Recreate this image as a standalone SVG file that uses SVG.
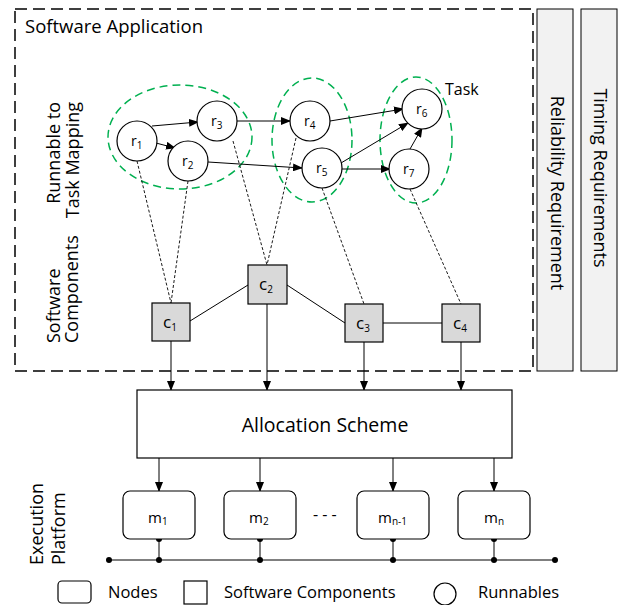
<svg xmlns="http://www.w3.org/2000/svg" width="625" height="605" viewBox="0 0 625 605">
<defs>
<marker id="ah" markerWidth="10" markerHeight="8" refX="9" refY="4" orient="auto" markerUnits="userSpaceOnUse">
<path d="M0,0 L10,4 L0,8 Z" fill="#000"/>
</marker>
<style>
text{font-family:"Open Sans","Noto Sans","DejaVu Sans",sans-serif;fill:#000}
.lbl{font-size:16px}
.big{font-size:18px}
.leg{font-size:16.5px}
.run{fill:#fff;stroke:#000;stroke-width:1.2}
.task{fill:none;stroke:#00b050;stroke-width:1.5;stroke-dasharray:8,5}
.comp{fill:#d9d9d9;stroke:#000;stroke-width:1.2}
.node{fill:#fff;stroke:#000;stroke-width:1.2}
.req{fill:#f2f2f2;stroke:#000;stroke-width:1}
.arr{stroke:#000;stroke-width:1;fill:none;marker-end:url(#ah)}
.ln{stroke:#000;stroke-width:1;fill:none}
.dl{stroke:#000;stroke-width:0.9;fill:none;stroke-dasharray:3,2}
.sub{font-size:10px}
.rl{font-size:14px}
.ml{font-size:15px}
</style>
</defs>
<rect width="625" height="605" fill="#fff"/>

<g id="software-application">
<rect x="15" y="9" width="518" height="362" fill="none" stroke="#000" stroke-width="1.5" stroke-dasharray="12,6"/>
<text x="25" y="33" style="font-size:18.5px">Software Application</text>
<text class="big" transform="translate(60,102) rotate(-90)" text-anchor="end">Runnable to</text>
<text class="big" transform="translate(79,102) rotate(-90)" text-anchor="end">Task Mapping</text>
<text class="big" transform="translate(60,343) rotate(-90)">Software</text>
<text class="big" transform="translate(78,343) rotate(-90)">Components</text>
</g>

<g id="reliability-requirement">
<rect x="537" y="9" width="36" height="362" class="req"/>
<text class="big" transform="translate(551,193) rotate(90)" text-anchor="middle">Reliability Requirement</text>
</g>
<g id="timing-requirements">
<rect x="581" y="9" width="36" height="362" class="req"/>
<text class="big" transform="translate(594,178) rotate(90)" text-anchor="middle">Timing Requirements</text>
</g>

<g id="tasks">
<ellipse cx="180" cy="137" rx="72" ry="52" class="task"/>
<ellipse cx="312" cy="140" rx="40" ry="62" class="task"/>
<ellipse cx="416" cy="140" rx="36" ry="63" class="task"/>
<text x="445" y="95" class="lbl">Task</text>
</g>

<g id="connectors">
<line x1="152" y1="126" x2="198" y2="122" class="arr"/>
<line x1="156" y1="143" x2="175" y2="148" class="arr"/>
<line x1="237" y1="121" x2="290" y2="121" class="arr"/>
<line x1="208" y1="162" x2="302" y2="168" class="arr"/>
<line x1="330" y1="121" x2="403" y2="109" class="arr"/>
<line x1="341" y1="163" x2="408" y2="123" class="arr"/>
<line x1="342" y1="169" x2="390" y2="169" class="arr"/>
<line x1="410" y1="149" x2="422" y2="128" class="arr"/>

<line x1="137" y1="161" x2="171" y2="303" class="dl"/>
<line x1="188" y1="181" x2="171" y2="303" class="dl"/>
<line x1="233" y1="141" x2="267" y2="265" class="dl"/>
<line x1="296" y1="138" x2="267" y2="265" class="dl"/>
<line x1="322" y1="188" x2="364" y2="304" class="dl"/>
<line x1="410" y1="189" x2="461" y2="304" class="dl"/>

<line x1="190" y1="321" x2="248" y2="285" class="ln"/>
<line x1="287" y1="285" x2="345" y2="323" class="ln"/>
<line x1="383" y1="323" x2="442" y2="323" class="ln"/>

<line x1="171" y1="341" x2="171" y2="390" class="arr"/>
<line x1="267" y1="304" x2="267" y2="390" class="arr"/>
<line x1="364" y1="342" x2="364" y2="390" class="arr"/>
<line x1="461" y1="342" x2="461" y2="390" class="arr"/>

<line x1="159" y1="458" x2="159" y2="491" class="arr"/>
<line x1="260" y1="458" x2="260" y2="491" class="arr"/>
<line x1="393" y1="458" x2="393" y2="491" class="arr"/>
<line x1="494" y1="458" x2="494" y2="491" class="arr"/>

<line x1="109" y1="560" x2="555" y2="560" class="ln"/>
<line x1="159" y1="539" x2="159" y2="560" class="ln"/>
<line x1="260" y1="539" x2="260" y2="560" class="ln"/>
<line x1="393" y1="539" x2="393" y2="560" class="ln"/>
<line x1="494" y1="539" x2="494" y2="560" class="ln"/>
<g fill="#000">
<circle cx="109" cy="560" r="3"/><circle cx="555" cy="560" r="3"/>
<circle cx="159" cy="560" r="3"/><circle cx="260" cy="560" r="3"/><circle cx="393" cy="560" r="3"/><circle cx="494" cy="560" r="3"/>
<circle cx="159" cy="539" r="3"/><circle cx="260" cy="539" r="3"/><circle cx="393" cy="539" r="3"/><circle cx="494" cy="539" r="3"/>
</g>
</g>

<g id="r1"><circle cx="137" cy="141" r="20" class="run"/><text x="131" y="146" class="rl">r<tspan class="sub" dy="3">1</tspan></text></g>
<g id="r2"><circle cx="188" cy="161" r="20" class="run"/><text x="182" y="166" class="rl">r<tspan class="sub" dy="3">2</tspan></text></g>
<g id="r3"><circle cx="217" cy="121" r="20" class="run"/><text x="211" y="126" class="rl">r<tspan class="sub" dy="3">3</tspan></text></g>
<g id="r4"><circle cx="310" cy="121" r="20" class="run"/><text x="304" y="126" class="rl">r<tspan class="sub" dy="3">4</tspan></text></g>
<g id="r5"><circle cx="322" cy="168" r="20" class="run"/><text x="316" y="173" class="rl">r<tspan class="sub" dy="3">5</tspan></text></g>
<g id="r6"><circle cx="422" cy="109" r="20" class="run"/><text x="416" y="114" class="rl">r<tspan class="sub" dy="3">6</tspan></text></g>
<g id="r7"><circle cx="409" cy="169" r="20" class="run"/><text x="403" y="174" class="rl">r<tspan class="sub" dy="3">7</tspan></text></g>

<g id="c1"><rect x="152" y="303" width="38" height="38" class="comp"/><text x="163" y="328" style="font-size:17px">c<tspan class="sub" dy="3">1</tspan></text></g>
<g id="c2"><rect x="248" y="265" width="39" height="39" class="comp"/><text x="259" y="290" style="font-size:17px">c<tspan class="sub" dy="3">2</tspan></text></g>
<g id="c3"><rect x="345" y="304" width="38" height="38" class="comp"/><text x="356" y="329" style="font-size:17px">c<tspan class="sub" dy="3">3</tspan></text></g>
<g id="c4"><rect x="442" y="304" width="38" height="38" class="comp"/><text x="453" y="329" style="font-size:17px">c<tspan class="sub" dy="3">4</tspan></text></g>

<g id="allocation-scheme">
<rect x="137" y="390" width="375" height="68" fill="#fff" stroke="#000" stroke-width="1.2"/>
<text x="325" y="432" text-anchor="middle" style="font-size:19.5px">Allocation Scheme</text>
</g>

<g id="execution-platform">
<text class="big" transform="translate(43,565) rotate(-90)">Execution</text>
<text class="big" transform="translate(65,565) rotate(-90)">Platform</text>
</g>

<g id="m1"><rect x="123" y="491" width="72" height="48" rx="7" class="node"/><text x="148" y="523" class="ml">m<tspan class="sub" dy="2">1</tspan></text></g>
<g id="m2"><rect x="224" y="491" width="72" height="48" rx="7" class="node"/><text x="249" y="523" class="ml">m<tspan class="sub" dy="2">2</tspan></text></g>
<g id="mn-1"><rect x="357" y="491" width="72" height="48" rx="7" class="node"/><text x="378" y="523" class="ml">m<tspan class="sub" dy="2">n-1</tspan></text></g>
<g id="mn"><rect x="458" y="491" width="72" height="48" rx="7" class="node"/><text x="484" y="523" class="ml">m<tspan class="sub" dy="2">n</tspan></text></g>
<text x="313" y="520" class="lbl">- - -</text>

<g id="legend">
<rect x="58" y="581" width="33" height="22" rx="4" class="node"/>
<text x="108" y="598" class="leg">Nodes</text>
<rect x="184" y="581" width="23" height="23" fill="#fff" stroke="#000" stroke-width="1.2"/>
<text x="224" y="598" class="leg">Software Components</text>
<circle cx="445" cy="594" r="11" class="run"/>
<text x="478" y="598" class="leg">Runnables</text>
</g>
</svg>
